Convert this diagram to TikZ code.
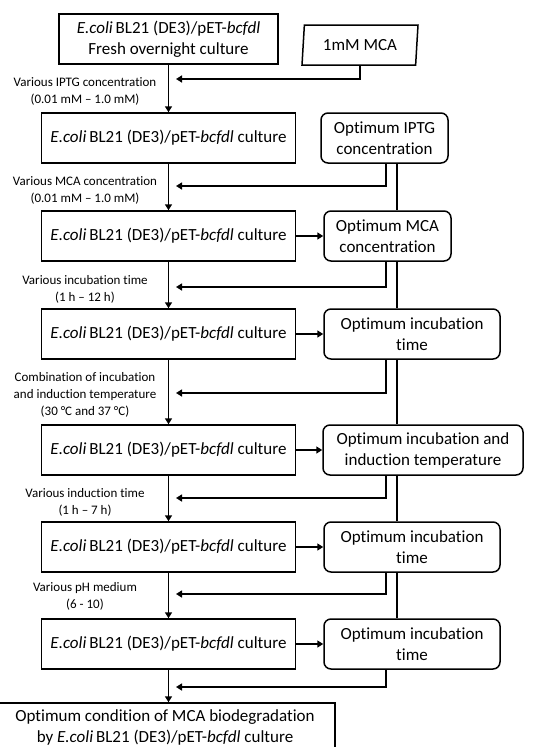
\documentclass[tikz,border=0pt]{standalone}
\usepackage{fontspec}
\setmainfont{Carlito}[Ligatures=NoCommon]
\usetikzlibrary{arrows.meta,shapes.geometric}
\newcommand{\strainname}{\textit{E.coli}\,BL21 (DE3)/pET-\textit{bcfdl}}
\begin{document}
\begin{tikzpicture}[x=1pt,y=-1pt,
  every node/.style={font=\fontsize{17}{21}\selectfont, align=center, inner sep=0pt},
  mainbox/.style={draw, line width=1.5pt, minimum width=254pt, minimum height=50pt, fill=white},
  optbox/.style={draw, line width=1.5pt, rounded corners=7pt, minimum height=50pt, fill=white},
  lbl/.style={font=\fontsize{13}{17}\selectfont},
  flow/.style={line width=1.5pt, -{Triangle[length=6pt,width=7pt]}},
  link/.style={line width=1.5pt}]
\clip (0,0) rectangle (558,747);
% coordinates for columns
\coordinate (fx) at (386,0);
\coordinate (cx) at (397,0);
% main column
\node[mainbox, minimum width=219pt] (top) at (168.5,39) {\strainname\\Fresh overnight culture};
\node[draw, trapezium, trapezium left angle=78, trapezium right angle=102, trapezium stretches body,
      minimum width=116pt, minimum height=40pt, line width=1.5pt] (mca) at (360,45) {1mM MCA};
\node[mainbox] (b2) at (168.5,138) {\strainname{} culture};
\node[mainbox] (b3) at (168.5,236) {\strainname{} culture};
\node[mainbox] (b4) at (168.5,334) {\strainname{} culture};
\node[mainbox] (b5) at (168.5,450) {\strainname{} culture};
\node[mainbox] (b6) at (168.5,547) {\strainname{} culture};
\node[mainbox] (b7) at (168.5,644) {\strainname{} culture};
\node[mainbox, minimum width=340pt, minimum height=48pt] (fin) at (165,727)
  {Optimum condition of MCA biodegradation\\by \strainname{} culture};
% right column
\node[optbox, minimum width=127pt] (r2) at (384.5,138) {Optimum IPTG\\concentration};
\node[optbox, minimum width=127pt] (r3) at (387.5,236) {Optimum MCA\\concentration};
\node[optbox, minimum width=176pt] (r4) at (412,334) {Optimum incubation\\time};
\node[optbox, minimum width=200pt] (r5) at (423,450) {Optimum incubation and\\induction temperature};
\node[optbox, minimum width=176pt] (r6) at (412,547) {Optimum incubation\\time};
\node[optbox, minimum width=176pt] (r7) at (412,644) {Optimum incubation\\time};
% labels
\node[lbl] (l1) at (85,91) {Various IPTG concentration\\(0.01 mM -- 1.0 mM)};
\node[lbl] (l2) at (85,190) {Various MCA concentration\\(0.01 mM -- 1.0 mM)};
\node[lbl] (l3) at (85,289) {Various incubation time\\(1 h -- 12 h)};
\node[lbl] (l4) at (85,395) {Combination of incubation\\and induction temperature\\(30 °C and 37 °C)};
\node[lbl] (l5) at (85,502) {Various induction time\\(1 h -- 7 h)};
\node[lbl] (l6) at (85,596) {Various pH medium\\(6 - 10)};
% feedback arrow ends
\coordinate (f1) at (176,79);
\coordinate (f2) at (176,186);
\coordinate (f3) at (176,287);
\coordinate (f4) at (176,393);
\coordinate (f5) at (176,498);
\coordinate (f6) at (176,594);
\coordinate (f7) at (176,687);
% main flow
\draw[flow] (top.south) -- (b2.north);
\draw[flow] (b2.south) -- (b3.north);
\draw[flow] (b3.south) -- (b4.north);
\draw[flow] (b4.south) -- (b5.north);
\draw[flow] (b5.south) -- (b6.north);
\draw[flow] (b6.south) -- (b7.north);
\draw[flow] (b7.south) -- (b7.south |- fin.north);
% horizontal arrows
\draw[flow] (b3.east) -- (r3.west);
\draw[flow] (b4.east) -- (r4.west);
\draw[flow] (b5.east) -- (r5.west);
\draw[flow] (b6.east) -- (r6.west);
\draw[flow] (b7.east) -- (r7.west);
% feedback
\draw[flow] (mca.south) |- (f1);
\draw[flow] (r2.south -| fx) |- (f2);
\draw[flow] (r3.south -| fx) |- (f3);
\draw[flow] (r4.south -| fx) |- (f4);
\draw[flow] (r5.south -| fx) |- (f5);
\draw[flow] (r6.south -| fx) |- (f6);
\draw[flow] (r7.south -| fx) |- (f7);
% connectors between right boxes
\draw[link] (r2.south -| cx) -- (r3.north -| cx);
\draw[link] (r3.south -| cx) -- (r4.north -| cx);
\draw[link] (r4.south -| cx) -- (r5.north -| cx);
\draw[link] (r5.south -| cx) -- (r6.north -| cx);
\draw[link] (r6.south -| cx) -- (r7.north -| cx);
\end{tikzpicture}
\end{document}
